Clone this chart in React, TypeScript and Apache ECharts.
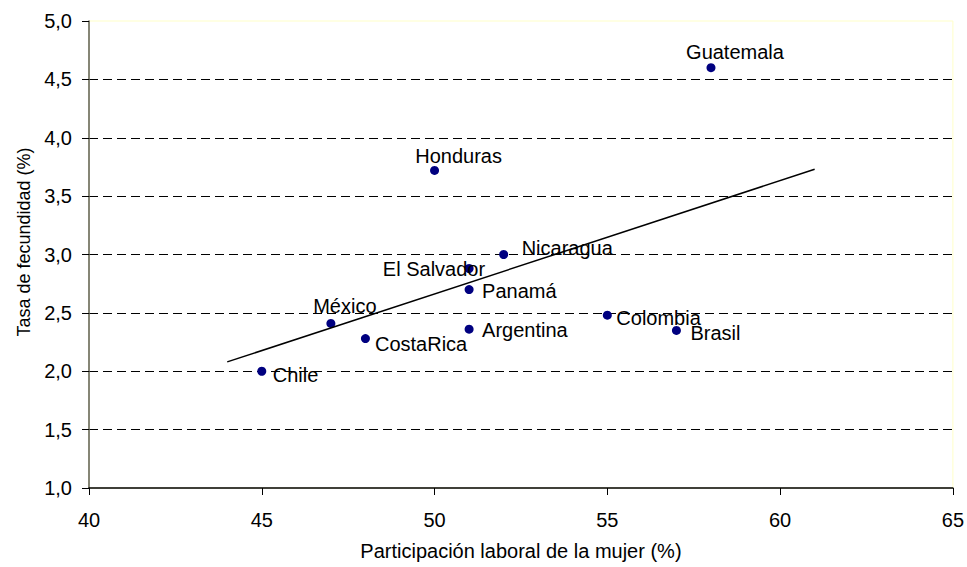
import React, { useEffect, useRef } from "react";
import * as echarts from "echarts";

const countries = ["Chile", "México", "CostaRica", "Honduras", "El Salvador", "Panamá", "Argentina", "Nicaragua", "Colombia", "Brasil", "Guatemala"];
const participation = [45, 47, 48, 50, 51, 51, 51, 52, 55, 57, 58];
const fertility = [2.0, 2.41, 2.28, 3.72, 2.88, 2.7, 2.36, 3.0, 2.48, 2.35, 4.6];
const trendX = [44, 61];
const trendY = [2.08, 3.73];
const xTicks = [40, 45, 50, 55, 60, 65];
const yTicks = [1.0, 1.5, 2.0, 2.5, 3.0, 3.5, 4.0, 4.5, 5.0];

// label placement (style only): [dx, dy, align]
const placement: Record<string, [number, number, string]> = {
  Chile: [11, 4, "left"],
  "México": [14, -17, "center"],
  CostaRica: [9.5, 5, "left"],
  Honduras: [24, -14, "center"],
  "El Salvador": [16, 0, "right"],
  "Panamá": [13, 1, "left"],
  Argentina: [13, 1, "left"],
  Nicaragua: [18, -7, "left"],
  Colombia: [9, 2.7, "left"],
  Brasil: [14, 2.5, "left"],
  Guatemala: [24, -16, "center"],
};

const FONT = "Liberation Sans, Arial, sans-serif";
const SYM = 9;

export default function App() {
  const ref = useRef<HTMLDivElement>(null);
  useEffect(() => {
    if (!ref.current) return;
    const chart = echarts.init(ref.current, undefined, { renderer: "svg" });
    const scatterData = countries.map((name, i) => {
      const p = placement[name];
      return {
        name,
        value: [participation[i], fertility[i]],
        label: {
          show: true,
          formatter: name,
          position: [SYM / 2 + p[0], SYM / 2 + p[1]],
          align: p[2],
          verticalAlign: "middle",
        },
      };
    });
    chart.setOption({
      animation: false,
      backgroundColor: "#ffffff",
      textStyle: { fontFamily: FONT },
      grid: {
        left: 89,
        right: 11,
        top: 21,
        bottom: 79,
        show: true,
        borderColor: "#ffffc8",
        borderWidth: 1,
        backgroundColor: "transparent",
      },
      xAxis: {
        type: "value",
        min: xTicks[0],
        max: xTicks[xTicks.length - 1],
        interval: 5,
        name: "Participación laboral de la mujer (%)",
        nameLocation: "middle",
        nameGap: 53,
        nameTextStyle: { fontSize: 20, color: "#000", fontFamily: FONT },
        axisLine: { lineStyle: { color: "#000", width: 1.5 } },
        axisTick: { show: true, inside: false, length: 7, lineStyle: { color: "#000" } },
        axisLabel: { fontSize: 20, color: "#000", margin: 22, fontFamily: FONT },
        splitLine: { show: false },
      },
      yAxis: {
        type: "value",
        min: yTicks[0],
        max: yTicks[yTicks.length - 1],
        interval: 0.5,
        name: "Tasa de fecundidad (%)",
        nameLocation: "middle",
        nameGap: 56,
        nameTextStyle: { fontSize: 18, color: "#000", fontFamily: FONT, padding: [0, 0, 0, 25] },
        axisLine: { show: true, lineStyle: { color: "#5e5e52", width: 1.5 } },
        axisTick: { show: true, inside: false, length: 7, lineStyle: { color: "#000" } },
        axisLabel: {
          fontSize: 20,
          color: "#000",
          margin: 17,
          fontFamily: FONT,
          formatter: (v: number) => v.toFixed(1).replace(".", ","),
        },
        splitLine: {
          show: true,
          showMinLine: false,
          showMaxLine: false,
          lineStyle: { color: "#000", type: [9, 5], width: 1 },
        },
      },
      series: [
        {
          type: "line",
          data: trendX.map((x, i) => [x, trendY[i]]),
          showSymbol: false,
          symbol: "none",
          lineStyle: { color: "#000", width: 1.5 },
          z: 3,
          silent: true,
        },
        {
          type: "scatter",
          data: scatterData,
          symbol: "circle",
          symbolSize: SYM,
          itemStyle: { color: "#000080", opacity: 1 },
          label: { fontSize: 20, color: "#000", fontFamily: FONT },
          z: 2,
        },
      ],
    });
    return () => chart.dispose();
  }, []);
  return (
    <div
      ref={ref}
      style={{ position: "fixed", left: 0, top: 0, width: 967, height: 567 }}
    />
  );
}
